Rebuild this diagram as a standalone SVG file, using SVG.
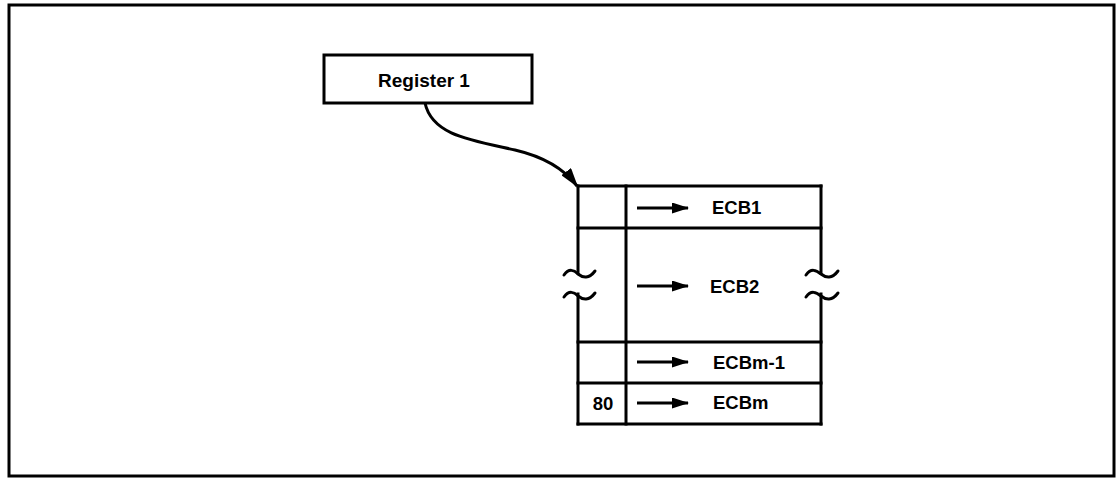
<svg xmlns="http://www.w3.org/2000/svg" width="1119" height="479" viewBox="0 0 1119 479">
<style>
.ln{fill:none;stroke:#000;stroke-width:3;stroke-linecap:square}
.wv{fill:none;stroke:#000;stroke-width:3;stroke-linecap:round}
.t{font-family:"Liberation Sans",Arial,sans-serif;font-weight:bold;font-size:18.5px;fill:#000;dominant-baseline:central}
.ar{stroke:#000;stroke-width:3}
</style>
<defs>
<marker id="ah" markerWidth="17" markerHeight="11" refX="16" refY="5.5" orient="auto" markerUnits="userSpaceOnUse">
<path d="M0,0 L17,5.5 L0,11 Z" fill="#000"/>
</marker>
<marker id="ah2" markerWidth="20" markerHeight="12" refX="18" refY="6" orient="auto" markerUnits="userSpaceOnUse">
<path d="M0,0 L20,6 L0,12 Z" fill="#000"/>
</marker>
</defs>
<rect x="9" y="5" width="1105" height="471" fill="#fff" stroke="#000" stroke-width="3"/>
<g id="register1">
<rect x="324" y="55" width="208" height="48" fill="#fff" stroke="#000" stroke-width="3"/>
<text class="t" x="424" y="80" text-anchor="middle" style="font-size:19px">Register 1</text>
</g>
<g id="table">
<path class="ln" d="M578,186 H821 M578,228 H821 M578,342 H821 M578,383 H821 M578,424 H821"/>
<path class="ln" d="M578,186 V273 M578,294 V424 M821,186 V273 M821,294 V424 M626,186 V424"/>
<path class="wv" d="M564,275 C569,268 574,270 578,274 C583,278 589,279 595,271"/>
<path class="wv" d="M564,297 C569,290 574,292 578,296 C583,300 589,301 595,293"/>
<path class="wv" d="M806,275 C811,268 816,270 821,274 C826,278 832,279 838,271"/>
<path class="wv" d="M806,297 C811,290 816,292 821,296 C826,300 832,301 838,293"/>
</g>
<g id="ecb1"><text class="t" x="712" y="207">ECB1</text></g>
<g id="ecb2"><text class="t" x="710" y="286">ECB2</text></g>
<g id="ecbm1"><text class="t" x="713" y="362">ECBm-1</text></g>
<g id="ecbm"><text class="t" x="713" y="402">ECBm</text><text class="t" x="603" y="403" text-anchor="middle">80</text></g>
<g id="connectors">
<path d="M425,103 C432,135 470,140 515,150 C545,157 565,170 577,186" fill="none" stroke="#000" stroke-width="3" marker-end="url(#ah2)"/>
<line class="ar" x1="637" y1="208" x2="688" y2="208" marker-end="url(#ah)"/>
<line class="ar" x1="637" y1="286" x2="688" y2="286" marker-end="url(#ah)"/>
<line class="ar" x1="637" y1="362" x2="688" y2="362" marker-end="url(#ah)"/>
<line class="ar" x1="637" y1="403" x2="688" y2="403" marker-end="url(#ah)"/>
</g>
</svg>
